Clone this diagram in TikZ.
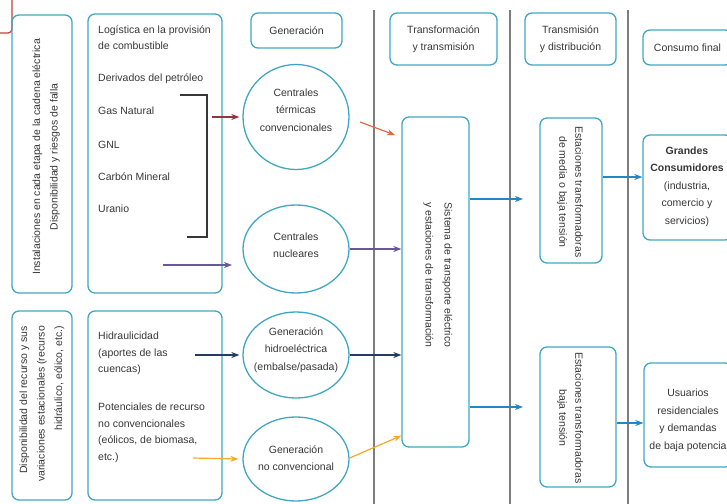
\documentclass[tikz,border=0pt]{standalone}
\usepackage{fontspec}
\setmainfont{Liberation Sans}
\usetikzlibrary{arrows.meta,shapes.geometric,positioning}
\definecolor{borde}{RGB}{64,168,190}
\definecolor{texto}{RGB}{55,55,55}
\definecolor{linea}{RGB}{125,125,125}
\definecolor{granate}{RGB}{150,50,70}
\definecolor{violeta}{RGB}{105,85,160}
\definecolor{marino}{RGB}{35,60,95}
\definecolor{naranja}{RGB}{240,170,40}
\definecolor{rojizo}{RGB}{225,105,65}
\definecolor{azul}{RGB}{35,135,195}
\definecolor{marco}{RGB}{200,60,60}
\begin{document}
\begin{tikzpicture}[x=1pt, y=-1pt,
    caja/.style={draw=borde, line width=1.3pt, rounded corners=7pt, inner sep=0pt},
    elipse/.style={ellipse, draw=borde, line width=1.3pt, inner sep=0pt, minimum width=106pt},
    txt/.style={text=texto, font=\fontsize{10.5}{17.5}\selectfont, align=center, inner sep=1pt},
    flecha/.style={line width=1.2pt, -{Stealth[length=8pt,width=6pt,inset=2.5pt]}},
    separador/.style={linea, line width=1.2pt},
    every node/.style={txt}]
  \useasboundingbox (0,0) rectangle (727,503);
  \clip (0,0) rectangle (727,503);
  % Marco rojo (esquina)
  \draw[marco, line width=1.2pt, rounded corners=4pt] (12,-5) -- (12,33) -- (-5,33);
  % Separadores de columnas
  \foreach \x in {374,510,628} { \draw[separador] (\x,10) -- (\x,510); }
  % Columna izquierda
  \node[caja, minimum width=60pt, minimum height=278pt] (inst) at (42,154) {};
  \node[rotate=90] (instt) at (46,157) {Instalaciones en cada etapa de la cadena eléctrica\\Disponibilidad y riesgos de falla};
  \node[caja, minimum width=134pt, minimum height=279pt] (comb) at (155,153.5) {};
  \node[anchor=west, align=left, font=\fontsize{10.5}{16}\selectfont] (logi) at (97,38) {Logística en la provisión\\de combustible};
  \foreach \n/\y/\t in {der/79/Derivados del petróleo, gas/111/Gas Natural, gnl/145/GNL, car/177/Carbón Mineral, ura/209/Uranio}
    \node[anchor=west] (\n) at (97,\y) {\t};
  \draw[texto, line width=1.2pt] (180,95) -- (207,95) -- (207,237) -- (187,237);
  \node[caja, minimum width=60pt, minimum height=189pt] (recu) at (42,405.5) {};
  \node[rotate=90, align=right] (recut) at (42,404) {Disponibilidad del recurso y sus\\variaciones estacionales (recurso\\hidráulico, eólico, etc.)};
  \node[caja, minimum width=134pt, minimum height=189pt] (pote) at (155,405.5) {};
  \node[anchor=west, align=left, font=\fontsize{10.5}{16.5}\selectfont] (hidr) at (97,353.5) {Hidraulicidad\\(aportes de las\\cuencas)};
  \node[anchor=west, align=left, font=\fontsize{10.5}{16.5}\selectfont] (ncon) at (97,433) {Potenciales de recurso\\no convencionales\\(eólicos, de biomasa,\\etc.)};
  % Generacion
  \node[caja, minimum width=91pt, minimum height=35pt] (gen) at (296.5,30.5) {Generación};
  \node[elipse, minimum height=105pt] (ter) at (296,117) {};
  \node (tert) at (296,110) {Centrales\\térmicas\\convencionales};
  \node[elipse, minimum height=88pt] (nuc) at (296,249) {};
  \node (nuct) at (296,245) {Centrales\\nucleares};
  \node[elipse, minimum height=86pt] (hid) at (296,355) {};
  \node (hidt) at (296,350) {Generación\\hidroeléctrica\\(embalse/pasada)};
  \node[elipse, minimum height=84pt] (noc) at (296,459) {};
  \node (noct) at (296,458) {Generación\\no convencional};
  % Transformacion y transmision
  \node[caja, minimum width=107pt, minimum height=52pt] (tyt) at (443.5,39) {Transformación\\y transmisión};
  \node[caja, minimum width=67pt, minimum height=330pt] (tsys) at (435.5,282) {};
  \node[rotate=-90, font=\fontsize{10.5}{19}\selectfont] (tsyst) at (438,275) {Sistema de transporte eléctrico\\y estaciones de transformación};
  % Transmision y distribucion
  \node[caja, minimum width=91pt, minimum height=52pt] (tyd) at (570.5,39) {Transmisión\\y distribución};
  \node[caja, minimum width=62pt, minimum height=145pt] (est1) at (571,190.5) {};
  \node[rotate=-90, font=\fontsize{10.5}{16}\selectfont] (est1t) at (570,192) {Estaciones transformadoras\\de media o baja tensión};
  \node[caja, minimum width=76pt, minimum height=140pt] (est2) at (578,417) {};
  \node[rotate=-90, font=\fontsize{10.5}{16}\selectfont] (est2t) at (570,418) {Estaciones transformadoras\\baja tensión};
  % Consumo final
  \node[caja, minimum width=89pt, minimum height=35pt] (cons) at (687.5,47.5) {Consumo final};
  \node[caja, minimum width=89pt, minimum height=105pt] (gran) at (687.5,187.5) {};
  \node (grant) at (687,186.5) {\textbf{Grandes}\\\textbf{Consumidores}\\(industria,\\comercio y\\servicios)};
  \node[caja, minimum width=88pt, minimum height=104pt] (usu) at (688,415) {};
  \node (usut) at (688,420.5) {Usuarios\\residenciales\\y demandas\\de baja potencia};
  % Flechas
  \coordinate (llave) at (212,117);
  \coordinate (urn) at (163,265);
  \coordinate (urnf) at (232,265);
  \coordinate (hidi) at (195,355);
  \coordinate (noci) at (193,458);
  \coordinate (teri) at (360,122);
  \coordinate (terf) at (395,135);
  \coordinate (t1) at (523,199);
  \coordinate (t2) at (523,407);
  \coordinate (ya) at (0,177);
  \coordinate (yb) at (0,423);
  \draw[flecha, granate] (llave) -- ([xshift=-3pt]ter.west);
  \draw[flecha, violeta] (urn) -- (urnf);
  \draw[flecha, marino] (hidi) -- ([xshift=-3pt]hid.west);
  \draw[flecha, naranja] (noci) -- ([xshift=-4pt]noc.west);
  \draw[flecha, rojizo] (teri) -- (terf);
  \draw[flecha, violeta] (nuc.east) -- (tsys.west |- nuc.east);
  \draw[flecha, marino] (hid.east) -- (tsys.west |- hid.east);
  \draw[flecha, naranja] ([yshift=1pt]noc.east) -- ([yshift=12pt]tsys.south west);
  \draw[flecha, azul] (tsys.east |- t1) -- (t1);
  \draw[flecha, azul] (tsys.east |- t2) -- (t2);
  \draw[flecha, azul] (est1.east |- ya) -- (gran.west |- ya);
  \draw[flecha, azul] (est2.east |- yb) -- (usu.west |- yb);
\end{tikzpicture}
\end{document}
